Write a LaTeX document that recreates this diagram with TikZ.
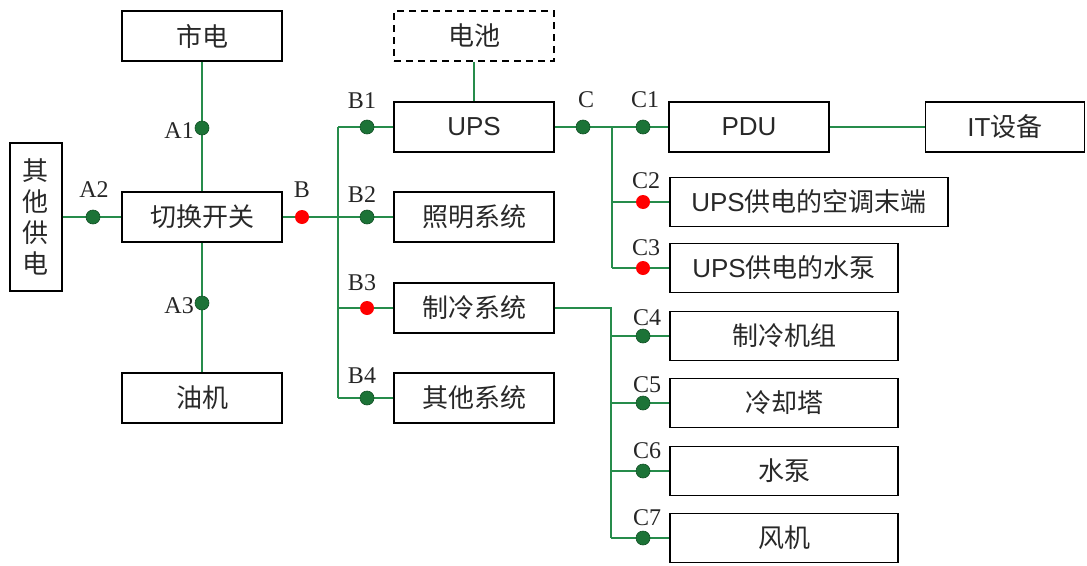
\documentclass[tikz,border=0pt]{standalone}
\usepackage{fontspec}
\setmainfont{Liberation Serif}
\setsansfont{Liberation Sans}
\newfontfamily\cjk{Noto Sans CJK SC}
\usetikzlibrary{calc}
\definecolor{wirec}{RGB}{38,140,75}
\definecolor{dotg}{RGB}{28,115,55}
\definecolor{dotgd}{RGB}{18,80,38}
\definecolor{txt}{RGB}{40,40,40}
\pgfdeclarelayer{bg}\pgfsetlayers{bg,main}
\tikzset{
 box/.style={draw=black, line width=1.8pt, minimum width=160pt, minimum height=50pt, inner sep=0pt, font=\cjk\fontsize{26}{30}\selectfont, text=txt},
 gdot/.style={circle, fill=dotg, draw=dotgd, line width=0.6pt, minimum size=14pt, inner sep=0pt},
 rdot/.style={circle, fill=red, minimum size=14pt, inner sep=0pt},
 lbl/.style={font=\fontsize{24}{26}\selectfont, inner sep=0pt, anchor=base, text=black!85},
 wire/.style={draw=wirec, line width=2pt},
}
\begin{document}
\begin{tikzpicture}[x=1pt,y=-1pt]
\useasboundingbox (0,0) rectangle (1087,565);
% boxes
\node[box] (shidian) at (202,36) {市电};
\node[box] (qiehuan) at (202,217) {切换开关};
\node[box] (youji) at (202,398) {油机};
\node[box, minimum width=52pt, minimum height=148pt, align=center, font=\cjk\fontsize{26}{31}\selectfont] (qita) at (36,217) {其\\他\\供\\电};
\node[box, dashed, dash pattern=on 7pt off 5pt] (dianchi) at (474,36) {电池};
\node[box, font=\sffamily\fontsize{26}{30}\selectfont] (ups) at (474,127) {UPS};
\node[box] (zhaoming) at (474,217) {照明系统};
\node[box] (zhileng) at (474,308) {制冷系统};
\node[box] (qitaxt) at (474,398) {其他系统};
\node[box, font=\sffamily\fontsize{26}{30}\selectfont] (pdu) at (749,127) {PDU};
\node[box, minimum width=159pt] (it) at (1005,127) {{\sffamily IT}设备};
\node[box, minimum width=278pt, minimum height=49pt] (c2box) at (809,202) {{\sffamily UPS}供电的空调末端};
\node[box, minimum width=228pt, minimum height=49pt] (c3box) at (784,268) {{\sffamily UPS}供电的水泵};
\node[box, minimum width=228pt, minimum height=49pt] (c4box) at (784,336) {制冷机组};
\node[box, minimum width=228pt, minimum height=49pt] (c5box) at (784,403) {冷却塔};
\node[box, minimum width=228pt, minimum height=49pt] (c6box) at (784,471) {水泵};
\node[box, minimum width=228pt, minimum height=49pt] (c7box) at (784,538) {风机};
% dots
\node[gdot] (A1) at (202,128) {};
\node[gdot] (A2) at (93,217) {};
\node[gdot] (A3) at (202,303) {};
\node[rdot] (B) at (302,217) {};
\node[gdot] (B1) at (367,127) {};
\node[gdot] (B2) at (367,217) {};
\node[rdot] (B3) at (367,308) {};
\node[gdot] (B4) at (367,398) {};
\node[gdot] (C) at (583,127) {};
\node[gdot] (C1) at (643,127) {};
\node[rdot] (C2) at (643,202) {};
\node[rdot] (C3) at (643,268) {};
\node[gdot] (C4) at (643,336) {};
\node[gdot] (C5) at (643,403) {};
\node[gdot] (C6) at (643,471) {};
\node[gdot] (C7) at (643,538) {};
% junctions
\coordinate (jB1) at (338,127);
\coordinate (jB2) at (338,217);
\coordinate (jB3) at (338,308);
\coordinate (jB4) at (338,398);
\coordinate (jC1) at (612,127);
\coordinate (jC2) at (612,202);
\coordinate (jC3) at (612,268);
\coordinate (jD0) at (611,308);
\coordinate (jD4) at (611,336);
\coordinate (jD5) at (611,403);
\coordinate (jD6) at (611,471);
\coordinate (jD7) at (611,538);
% labels
\node[lbl, anchor=east] (lA1) at ($(A1)+(-8,3)$) {A1};
\node[lbl] (lA2) at ($(A2)+(1,-20)$) {A2};
\node[lbl, anchor=east] (lA3) at ($(A3)+(-8,3)$) {A3};
\node[lbl] (lB) at ($(B)+(0,-20)$) {B};
\node[lbl] (lB1) at ($(B1)+(-5,-19)$) {B1};
\node[lbl] (lB2) at ($(B2)+(-5,-15)$) {B2};
\node[lbl] (lB3) at ($(B3)+(-5,-18)$) {B3};
\node[lbl] (lB4) at ($(B4)+(-5,-15)$) {B4};
\node[lbl] (lC) at ($(C)+(3,-20)$) {C};
\node[lbl] (lC1) at ($(C1)+(2,-20)$) {C1};
\node[lbl] (lC2) at ($(C2)+(3,-14)$) {C2};
\node[lbl] (lC3) at ($(C3)+(3,-13)$) {C3};
\node[lbl] (lC4) at ($(C4)+(4,-11)$) {C4};
\node[lbl] (lC5) at ($(C5)+(4,-11)$) {C5};
\node[lbl] (lC6) at ($(C6)+(4,-13)$) {C6};
\node[lbl] (lC7) at ($(C7)+(4,-13)$) {C7};
% wires
\begin{pgfonlayer}{bg}
\draw[wire] (shidian.south) -- (A1.center) -- (qiehuan.north);
\draw[wire] (qiehuan.south) -- (A3.center) -- (youji.north);
\draw[wire] (qita.east) -- (A2.center) -- (qiehuan.west);
\draw[wire] (qiehuan.east) -- (B.center) -- (jB2) -- (B2.center) -- (zhaoming.west);
\draw[wire] (jB1) -- (jB4);
\draw[wire] (jB1) -- (B1.center) -- (ups.west);
\draw[wire] (jB3) -- (B3.center) -- (zhileng.west);
\draw[wire] (jB4) -- (B4.center) -- (qitaxt.west);
\draw[wire, line width=1.6pt] (dianchi.south) -- (ups.north);
\draw[wire] (ups.east) -- (C.center) -- (C1.center) -- (pdu.west);
\draw[wire] (jC1) -- (jC3);
\draw[wire] (jC2) -- (C2.center) -- (c2box.west);
\draw[wire] (jC3) -- (C3.center) -- (c3box.west);
\draw[wire] (pdu.east) -- (it.west);
\draw[wire] (zhileng.east) -- (jD0) -- (jD7);
\draw[wire] (jD4) -- (C4.center) -- (c4box.west);
\draw[wire] (jD5) -- (C5.center) -- (c5box.west);
\draw[wire] (jD6) -- (C6.center) -- (c6box.west);
\draw[wire] (jD7) -- (C7.center) -- (c7box.west);
\end{pgfonlayer}
\end{tikzpicture}
\end{document}
